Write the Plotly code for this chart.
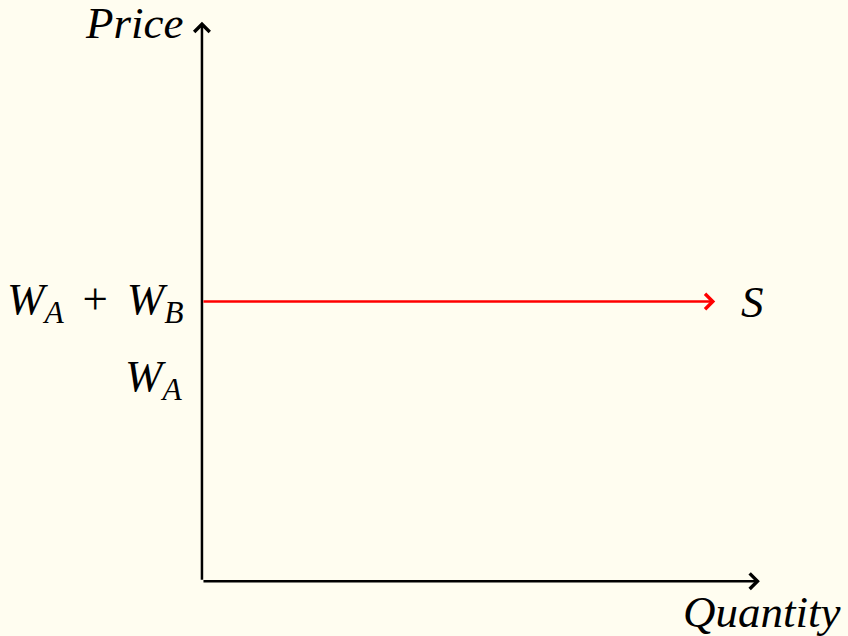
import plotly.graph_objects as go

# Data (economic units)
quantity_max = 10.0
price_max = 10.0
supply_price = 5.0          # W_A + W_B
wa_level = 3.62             # W_A
supply_q_end = 9.2
price_levels = [supply_price, wa_level]
price_labels = ["<i>W</i><sub><i>A</i></sub>&#8198; + &#8198;<i>W</i><sub><i>B</i></sub>", "<i>W</i><sub><i>A</i></sub>"]

BG = "#FFFDF0"
FONT = "Liberation Serif"
FS = 45

fig = go.Figure()

# invisible trace to anchor axes
fig.add_trace(go.Scatter(x=[0, quantity_max], y=[0, price_max], mode="markers",
                         marker=dict(opacity=0), hoverinfo="skip", showlegend=False))

def arrow(x0, y0, x1, y1, color, width=2.5):
    fig.add_annotation(x=x1, y=y1, ax=x0, ay=y0, xref="x", yref="y", axref="x", ayref="y",
                       showarrow=True, arrowhead=4, arrowsize=1.2, arrowwidth=width,
                       arrowcolor=color, text="")

# axes
arrow(0, 0, 0, price_max, "black")
arrow(0, 0, quantity_max, 0, "black")
# supply
arrow(0, supply_price, supply_q_end, supply_price, "#FF0000")

# labels
fig.add_annotation(x=-0.3, y=price_max - 0.02, text="<i>Price</i>", showarrow=False,
                   xanchor="right", yanchor="middle", font=dict(family=FONT, size=FS, color="black"))
for lvl, lab in zip(price_levels, price_labels):
    fig.add_annotation(x=-0.3, y=lvl, text=lab, showarrow=False,
                       xanchor="right", yanchor="middle", font=dict(family=FONT, size=FS, color="black"))
fig.add_annotation(x=9.86, y=supply_price, text="<i>S</i>", showarrow=False,
                   xanchor="center", yanchor="middle", font=dict(family=FONT, size=FS, color="black"))
fig.add_annotation(x=10.04, y=-0.55, text="<i>Quantity</i>", showarrow=False,
                   xanchor="center", yanchor="middle", font=dict(family=FONT, size=FS, color="black"))

fig.update_layout(
    width=848, height=636,
    margin=dict(l=0, r=0, t=0, b=0),
    paper_bgcolor=BG, plot_bgcolor=BG,
    xaxis=dict(range=[-3.62, 11.58], visible=False, fixedrange=True),
    yaxis=dict(range=[-0.98, 10.39], visible=False, fixedrange=True),
    showlegend=False,
)

fig.write_html(
    "out.html",
    config={"displayModeBar": False, "staticPlot": True},
    post_script="document.body.style.margin='0';document.body.style.padding='0';"
                "document.body.style.background='#FFFDF0';document.body.style.overflow='hidden';"
                "document.documentElement.style.background='#FFFDF0';",
)
